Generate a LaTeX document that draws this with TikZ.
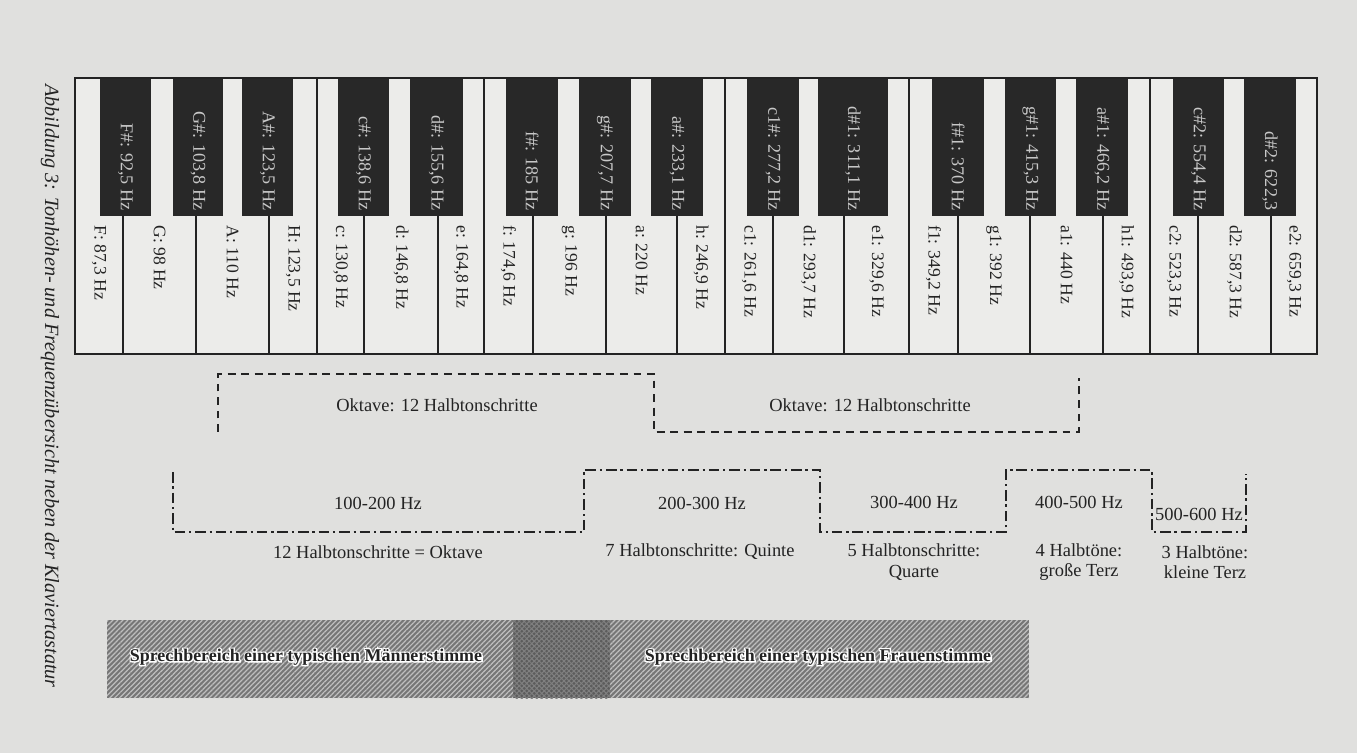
\documentclass[tikz,border=0pt]{standalone}
\usepackage{fontspec}
\setmainfont{Liberation Serif}
\usetikzlibrary{patterns.meta}
\definecolor{paper}{RGB}{224,224,222}
\definecolor{keywhite}{RGB}{236,236,234}
\definecolor{keyblack}{RGB}{40,40,40}
\definecolor{keytext}{RGB}{200,200,200}
\definecolor{inktext}{RGB}{35,35,35}
\definecolor{barbg}{RGB}{118,118,118}
\definecolor{barmid}{RGB}{92,92,92}
% dark glyphs over a white outline
\newcommand{\rimtext}[1]{\rlap{\special{pdf:literal direct 1 Tr 1.5 w 1 1 1 RG}#1\special{pdf:literal direct 0 Tr}}#1}

\tikzset{
  keyline/.style={line width=1.2pt, inktext},
  blackkey/.style={fill=keyblack, draw=keyblack, line width=0.6pt},
  whitelabel/.style={rotate=-90, anchor=west, inner sep=0pt, text=inktext,
    font=\fontsize{10}{12}\selectfont},
  blacklabel/.style={rotate=-90, anchor=east, inner sep=0pt, text=keytext,
    font=\fontsize{10.3}{12}\selectfont},
  octline/.style={line width=1.2pt, inktext, dash pattern=on 4.5pt off 3.2pt},
  rangeline/.style={line width=1.2pt, inktext, dash pattern=on 6pt off 2.2pt on 1.3pt off 2.2pt},
  lbl/.style={inner sep=0pt, align=center, text=inktext, font=\fontsize{10.5}{11.5}\selectfont},
  voice/.style={inner sep=0pt, text=inktext, font=\bfseries\fontsize{10.2}{12}\selectfont},
}

\begin{document}
\begin{tikzpicture}[x=0.02cm, y=-0.02cm]
  \useasboundingbox (0,0) rectangle (1357,753);
  \fill[paper] (0,0) rectangle (1357,753);

  % caption along the left edge
  \node[rotate=-90, anchor=west, inner sep=0pt, text=inktext,
    font=\itshape\fontsize{11.5}{13}\selectfont] (caption) at (50,84)
    {Abbildung 3: Tonhöhen- und Frequenzübersicht neben der Klaviertastatur};

  % white keys: left/right edge, name, frequency
  \fill[keywhite] (75,78) rectangle (1317,354);
  \foreach \l/\r/\n/\f [count=\i] in {75/123/F/{87,3}, 123/196/G/98, 196/269/A/110,
      269/317/H/{123,5}, 317/364/c/{130,8}, 364/438/d/{146,8}, 438/484/e/{164,8},
      484/533/f/{174,6}, 533/606/g/196, 606/677/a/220, 677/725/h/{246,9},
      725/773/c1/{261,6}, 773/844/d1/{293,7}, 844/909/e1/{329,6}, 909/958/f1/{349,2},
      958/1030/g1/392, 1030/1103/a1/440, 1103/1150/h1/{493,9}, 1150/1198/c2/{523,3},
      1198/1271/d2/{587,3}, 1271/1317/e2/{659,3}} {
    \draw[keyline] (\r,78) -- (\r,354);
    \node[whitelabel] (w\i) at ({(\l+\r)/2},225) {\n: \f{} Hz};
  }

  % black keys: left/right edge, label
  \foreach \l/\r/\t [count=\i] in {101/150/{F\#: 92,5 Hz}, 174/222/{G\#: 103,8 Hz},
      243/292/{A\#: 123,5 Hz}, 339/388/{c\#: 138,6 Hz}, 411/462/{d\#: 155,6 Hz},
      507/557/{f\#: 185 Hz}, 580/630/{g\#: 207,7 Hz}, 652/702/{a\#: 233,1 Hz},
      748/798/{c1\#: 277,2 Hz}, 819/887/{d\#1: 311,1 Hz}, 933/983/{f\#1: 370 Hz},
      1006/1055/{g\#1: 415,3 Hz}, 1077/1127/{a\#1: 466,2 Hz},
      1174/1223/{c\#2: 554,4 Hz}, 1245/1295/{d\#2: 622,3}} {
    \draw[blackkey] (\l,78) rectangle (\r,215);
    \node[blacklabel] (b\i) at ({(\l+\r)/2},211) {\t};
  }
  \draw[line width=1.6pt, inktext] (75,78) rectangle (1317,354);

  % octave brackets
  \draw[octline] (218,432) -- (218,374) -- (654,374) -- (654,432) -- (1079,432) -- (1079,378);
  \node[lbl] (okt1) at (437,405) {Oktave: 12 Halbtonschritte};
  \node[lbl] (okt2) at (870,405) {Oktave: 12 Halbtonschritte};

  % frequency ranges
  \draw[rangeline] (173,472) |- (584,532) |- (820,470) |- (1006,532) |- (1152,470)
    |- (1246,532) -- (1246,474);
  \node[lbl] (r1) at (378,503) {100-200 Hz};
  \node[lbl] (r2) at (702,503) {200-300 Hz};
  \node[lbl] (r3) at (914,502) {300-400 Hz};
  \node[lbl] (r4) at (1079,502) {400-500 Hz};
  \node[lbl] (r5) at (1199,514) {500-600 Hz};
  \node[lbl] (i1) at (378,552) {12 Halbtonschritte = Oktave};
  \node[lbl] (i2) at (700,552) {7 Halbtonschritte: Quinte};
  \node[lbl] (i3) at (914,562) {5 Halbtonschritte:\\Quarte};
  \node[lbl] (i4) at (1079,562) {4 Halbtöne:\\große Terz};
  \node[lbl] (i5) at (1205,562) {3 Halbtöne:\\kleine Terz};

  % speaking ranges
  \fill[barbg] (107,620) rectangle (1029,698);
  \fill[pattern={Lines[angle=45, distance=2pt, line width=0.7pt]}, pattern color=white!75!black]
    (107,620) rectangle (513,698) (610,620) rectangle (1029,698);
  \fill[barmid] (513,620) rectangle (610,698);
  \fill[pattern={Lines[angle=45, distance=2pt, line width=0.6pt]}, pattern color=gray]
    (513,620) rectangle (610,698);
  \fill[pattern={Lines[angle=-45, distance=2pt, line width=0.6pt]}, pattern color=gray]
    (513,620) rectangle (610,698);
  \node[voice] (male) at (306,657) {\rimtext{Sprechbereich einer typischen Männerstimme}};
  \node[voice] (female) at (818,657) {\rimtext{Sprechbereich einer typischen Frauenstimme}};
\end{tikzpicture}
\end{document}
